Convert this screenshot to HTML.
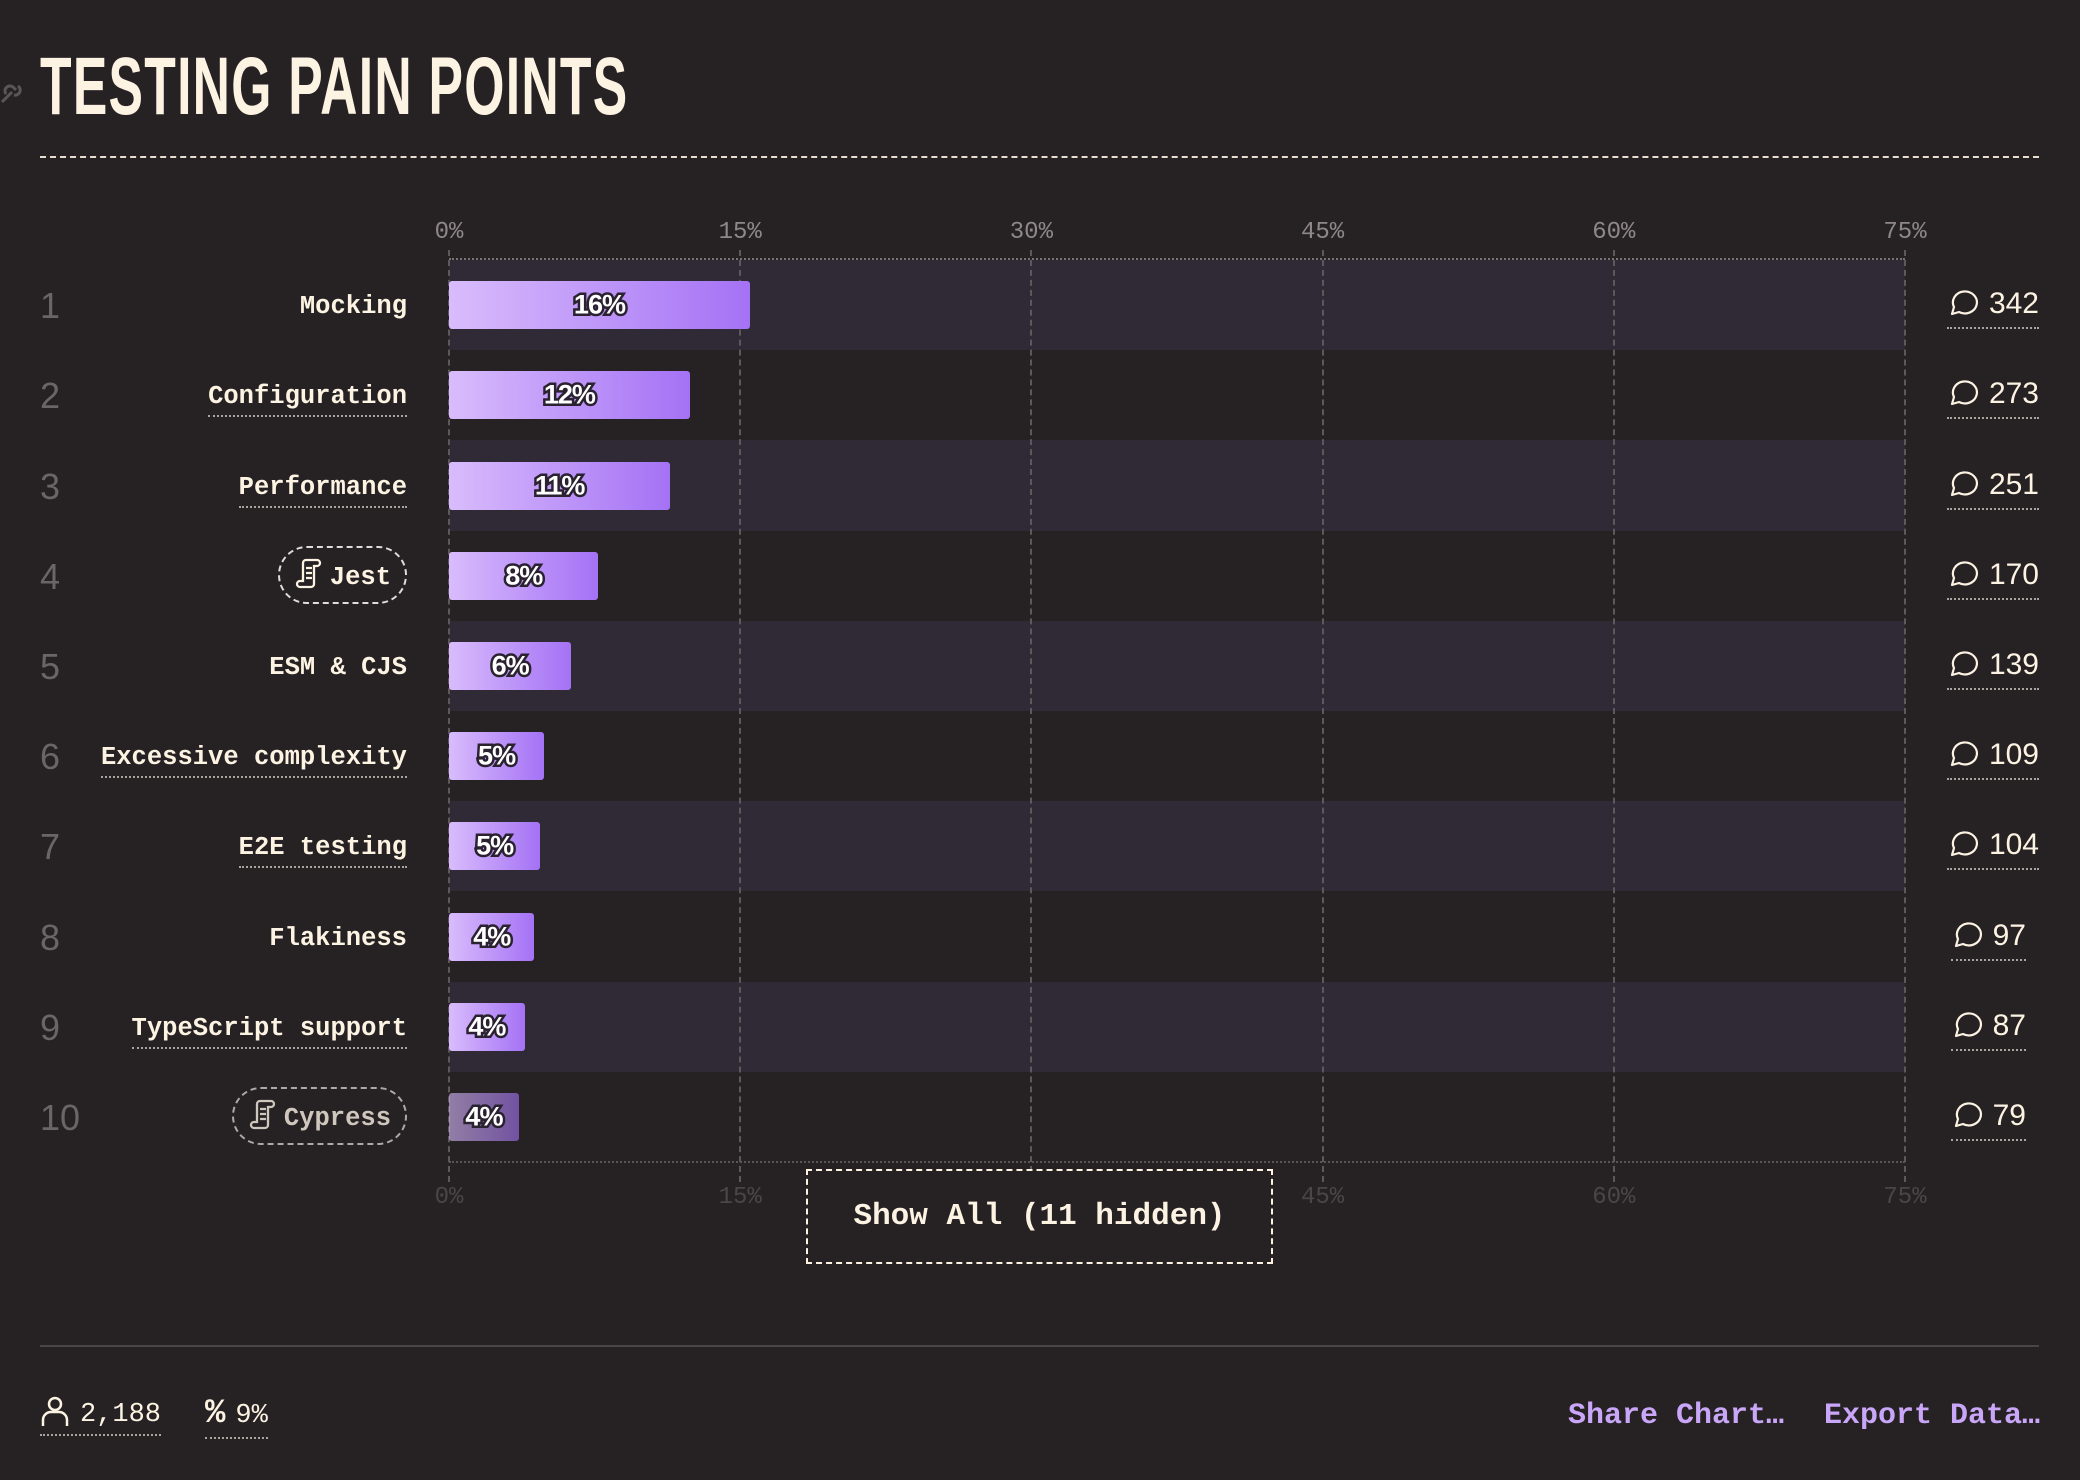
<!DOCTYPE html>
<html><head><meta charset="utf-8">
<style>
html,body{margin:0;padding:0;background:#262224;}
body{width:2080px;height:1480px;position:relative;overflow:hidden;font-family:"Liberation Mono",monospace;color:#fdf3e3;}
.abs{position:absolute;}
#title{left:40px;top:46px;font-family:"Liberation Sans Narrow","Liberation Sans",sans-serif;font-weight:bold;font-size:82px;line-height:82px;color:#fdf3e3;letter-spacing:2px;transform:scaleX(0.63);transform-origin:left top;white-space:nowrap;}
.tick{font-size:24px;color:#8f8789;transform:translateX(-50%);}
.tickb{color:#4c4548;}
.rownum{left:40px;font-size:36px;color:#6b6568;font-family:"Liberation Sans",sans-serif;font-weight:300;}
.lab{font-weight:bold;font-size:25.5px;text-align:right;white-space:nowrap;}
.ul{border-bottom:2px dotted #aaa39f;padding-bottom:4px;}
.pill{border:2px dashed #ddd;border-radius:30px;padding:10px 14px;}
.bar{height:48px;border-radius:3px;background:linear-gradient(90deg,#d9bcfc,#a472f5);}
.bval{font-family:"Liberation Sans",sans-serif;font-weight:bold;font-size:27px;color:#fff;-webkit-text-stroke:5px #2a2230;paint-order:stroke fill;transform:translate(-50%,-50%);letter-spacing:-1px;}
.cnt{font-family:"Liberation Sans",sans-serif;font-size:30px;color:#fdf3e3;right:41px;border-bottom:2px dotted #aaa39f;padding-bottom:6px;white-space:nowrap;}
.foot{font-size:27px;color:#fdf3e3;border-bottom:2px dotted #aaa39f;padding-bottom:4px;white-space:nowrap;}
.link{font-weight:bold;font-size:30px;color:#c9a6f8;}
</style></head><body>
<svg class="abs" style="left:0;top:72px" width="24" height="36"><path d="M2 30 l10-10 M6 22 a5 5 0 0 1 7-7 l3 3 M18 14 a5 5 0 0 1 -4 9" stroke="#5b5558" stroke-width="3" fill="none"/></svg>
<div id="title" class="abs">TESTING PAIN POINTS</div>
<div class="abs" style="left:40px;top:156px;width:1999px;border-top:2px dashed #e8ddd0"></div>
<div id="chart" class="abs" style="left:0;top:0;width:2080px;height:1480px"></div>
<div class="abs" style="left:806px;top:1169px;width:463px;height:91px;border:2px dashed #fdf3e3;display:flex;align-items:center;justify-content:center;font-weight:bold;font-size:31px;background:#262224">Show All (11 hidden)</div>
<div class="abs" style="left:40px;top:1345px;width:1999px;border-top:2px solid #4a4547"></div>
<div class="abs foot" style="left:40px;top:1395px"><svg width="30" height="32" style="vertical-align:-6px;margin-right:10px"><circle cx="15" cy="9" r="6" stroke="#fdf3e3" stroke-width="2.5" fill="none"/><path d="M3 31 v-6 a8 8 0 0 1 8-8 h8 a8 8 0 0 1 8 8 v6" stroke="#fdf3e3" stroke-width="2.5" fill="none"/></svg>2,188</div>
<div class="abs foot" style="left:205px;top:1395px"><span style="font-size:34px;font-weight:bold;margin-right:10px">%</span>9%</div>
<div class="abs link" style="left:1568px;top:1399px">Share Chart…</div>
<div class="abs link" style="left:1824px;top:1399px">Export Data…</div>
<script>
const categories=["Mocking","Configuration","Performance","Jest","ESM & CJS","Excessive complexity","E2E testing","Flakiness","TypeScript support","Cypress"];
const percentValues=[15.5,12.4,11.4,7.7,6.3,4.9,4.7,4.4,3.9,3.6];
const percentLabels=["16%","12%","11%","8%","6%","5%","5%","4%","4%","4%"];
const commentCounts=["342","273","251","170","139","109","104","97","87","79"];
const tickValues=[0,15,30,45,60,75];
const underlined=[false,true,true,false,false,true,true,false,true,false];
const pills=[false,false,false,true,false,false,false,false,false,true];

const X0=449,X1=1905,XMAX=75,ROW0=260,ROWH=90.2;
const xs=v=>X0+(X1-X0)*v/XMAX;
const ys=i=>ROW0+ROWH*i;
const chart=document.getElementById('chart');
function mk(cls,style,html){const d=document.createElement('div');d.className='abs '+cls;d.style.cssText=style;if(html!==undefined)d.innerHTML=html;chart.appendChild(d);return d;}

categories.forEach((c,i)=>{
  if(i%2===0){const b=mk('', `left:${X0}px;top:${ys(i)}px;width:${X1-X0}px;height:${ROWH}px;background:#2f2a36`);
    
    }
});
tickValues.forEach(t=>{
  const g=mk('',`left:${xs(t)-1}px;top:${ROW0-10}px;height:${ROWH*10+30}px;border-left:2px dashed #5e585b`);
  
  
  const a=mk('tick',`left:${xs(t)}px;top:219px`,t+'%');
  
  
  const b=mk('tick tickb',`left:${xs(t)}px;top:1184px`,t+'%');
  
  
});
const at=mk('',`left:${X0}px;top:258px;width:${X1-X0}px;border-top:2px dotted #7a7376`);


const ab=mk('',`left:${X0}px;top:1161px;width:${X1-X0}px;border-top:2px dotted #5a5457`);



const scroll='<svg width="28" height="32" style="vertical-align:-6px;margin-right:8px"><path d="M9 29 h-3 a3 3 0 0 1 0-6 h3 v-18 a3 3 0 0 1 3-3 h11 a3 3 0 0 1 0 6 h-3 v18 a3 3 0 0 1 -3 3 h-8 M12 10 h6 M12 15 h6 M12 20 h6" stroke="currentColor" stroke-width="2.3" fill="none"/></svg>';
categories.forEach((c,i)=>{
  const cy=ys(i)+ROWH/2;
  const n=mk('rownum',`top:${cy-20}px`,String(i+1));
  
  
  let l;
  if(pills[i]){
    l=mk('lab pill',`right:${2080-407}px;top:${cy-30}px;${i===9?'color:#cfc6bd;border-color:#aaa':''}`,scroll+c.replace('&','&amp;'));
  } else {
    l=mk('lab'+(underlined[i]?' ul':''),`right:${2080-407}px;top:${cy-13}px`,c.replace('&','&amp;'));
  }
  
  
  const w=xs(percentValues[i])-X0;
  const b=mk('bar',`left:${X0}px;top:${cy-24}px;width:${w}px;${i===9?'opacity:0.6':''}`);
  
  
  const v=mk('bval',`left:${X0+w/2}px;top:${cy}px`,percentLabels[i]);
  
  
  const k=mk('cnt',`top:${cy-18}px`,'<svg width="32" height="30" style="vertical-align:-4px;margin-right:10px"><path d="M5 27 l2-7 a12 11 0 1 1 5 5 z" stroke="#fdf3e3" stroke-width="2.2" fill="none" stroke-linejoin="round"/></svg>'+commentCounts[i]);
  if(commentCounts[i].length<3)k.style.right='54px';
  
  
});
</script>
</body></html>
